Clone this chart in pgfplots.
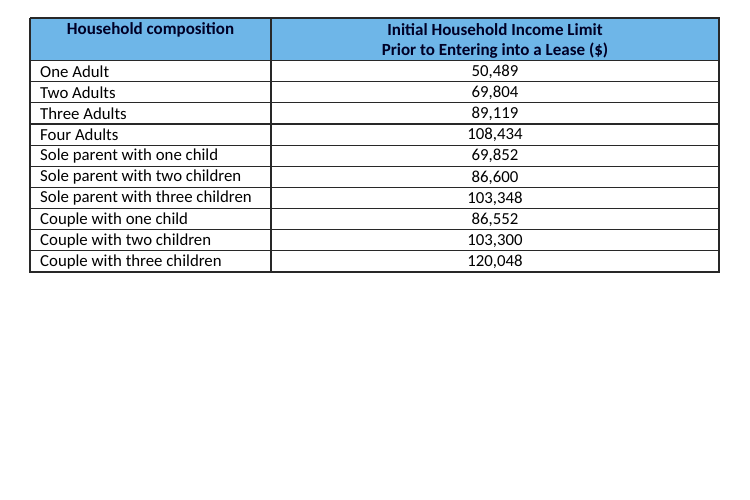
\documentclass[border=0pt]{standalone}
\usepackage{pgfplots}
\usepackage{pgfplotstable}
\usepackage{fontspec}
\setmainfont{Carlito}
\pgfplotsset{compat=1.18}

\definecolor{headblue}{RGB}{110,182,232}
\definecolor{rule}{RGB}{40,40,40}

% body rows: y position (px from top), composition, income limit
\pgfplotstableread{
y comp income
71.6 {One Adult} {50,489}
92.8 {Two Adults} {69,804}
113.9 {Three Adults} {89,119}
135.1 {Four Adults} {108,434}
156.2 {Sole parent with one child} {69,852}
177.4 {Sole parent with two children} {86,600}
198.5 {Sole parent with three children} {103,348}
219.7 {Couple with one child} {86,552}
240.8 {Couple with two children} {103,300}
262.0 {Couple with three children} {120,048}
}\rows

\pgfplotstableread{
x y txt
150.5 29.5 {Household composition}
495 29.5 {Initial Household Income Limit}
495 51 {Prior to Entering into a Lease (\$)}
}\header

\begin{document}
\begin{tikzpicture}
\begin{axis}[
    scale only axis,
    width=750bp, height=500bp,
    xmin=0, xmax=750, ymin=0, ymax=500,
    y dir=reverse,
    hide axis,
    clip=false,
    unbounded coords=jump
]
% header fill
\addplot[fill=headblue, draw=none] coordinates {(30,18) (719,18) (719,60.5) (30,60.5)} -- cycle;

% grid lines
\addplot[rule, line width=1.1bp] coordinates {
    (30,18) (719,18) (719,272) (30,272) (30,18) (nan,nan)
    (271,18) (271,272) (nan,nan)
    (30,60.5) (719,60.5) (nan,nan)
    (30,81.7) (719,81.7) (nan,nan)
    (30,102.8) (719,102.8) (nan,nan)
    (30,124) (719,124) (nan,nan)
    (30,145.1) (719,145.1) (nan,nan)
    (30,166.3) (719,166.3) (nan,nan)
    (30,187.4) (719,187.4) (nan,nan)
    (30,208.6) (719,208.6) (nan,nan)
    (30,229.7) (719,229.7) (nan,nan)
    (30,250.9) (719,250.9)
};

% header text
\addplot[only marks, mark=none, nodes near coords, point meta=explicit symbolic,
    every node near coord/.append style={anchor=center, inner sep=0pt,
        font=\fontsize{17bp}{20bp}\selectfont\bfseries, text=black!85!blue}]
    table[x=x, y=y, meta=txt] {\header};

% composition column
\addplot[only marks, mark=none, nodes near coords, point meta=explicit symbolic,
    every node near coord/.append style={anchor=west, inner sep=0pt,
        font=\fontsize{16.8bp}{20bp}\selectfont, text=black}]
    table[x expr=40, y=y, meta=comp] {\rows};

% income column
\addplot[only marks, mark=none, nodes near coords, point meta=explicit symbolic,
    every node near coord/.append style={anchor=center, inner sep=0pt,
        font=\fontsize{16.8bp}{20bp}\selectfont, text=black}]
    table[x expr=495, y=y, meta=income] {\rows};
\end{axis}
\useasboundingbox (current axis.south west) rectangle (current axis.north east);
\end{tikzpicture}
\end{document}
